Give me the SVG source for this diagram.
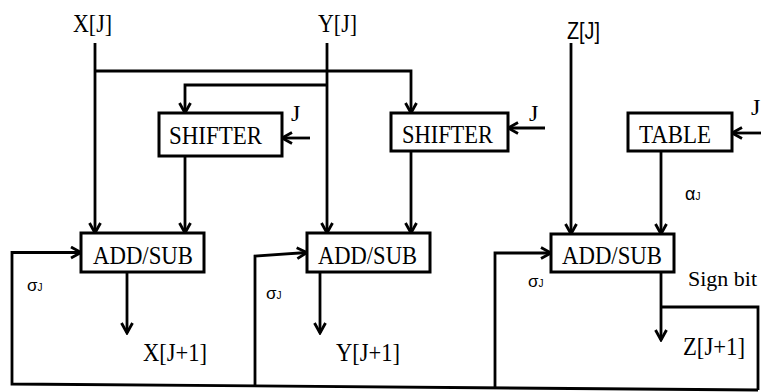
<svg xmlns="http://www.w3.org/2000/svg" width="761" height="392" viewBox="0 0 761 392">
<style>
.box{fill:#fff;stroke:#000;stroke-width:3}
.ln{fill:none;stroke:#000;stroke-width:2.8;stroke-linejoin:miter}
.ar{marker-end:url(#ah)}
.t{font-family:"Liberation Serif","Times New Roman",serif;font-size:26px;fill:#000}
.lb{font-family:"Liberation Serif","Times New Roman",serif;font-size:26px;fill:#000}
.j{font-family:"Liberation Serif","Times New Roman",serif;font-size:24px;fill:#000}
.sb{font-family:"Liberation Serif","Times New Roman",serif;font-size:22px;fill:#000}
.s{font-family:"Liberation Sans",Arial,sans-serif;fill:#000}
</style>
<defs>
<marker id="ah" viewBox="0 0 14 14" refX="12" refY="7" markerWidth="14" markerHeight="14" markerUnits="userSpaceOnUse" orient="auto">
<path d="M2,1.5 L12,7 L2,12.5" fill="none" stroke="#000" stroke-width="2.8"/>
</marker>
</defs>
<g id="connectors">
<path class="ln ar" d="M95,43 V233"/>
<path class="ln ar" d="M95,71 H411 V113"/>
<path class="ln ar" d="M327,43 V233"/>
<path class="ln ar" d="M327,85 H185 V113"/>
<path class="ln ar" d="M185,156 V233"/>
<path class="ln ar" d="M411,151 V233"/>
<path class="ln ar" d="M310,138 H282"/>
<path class="ln ar" d="M545,128 H508"/>
<path class="ln ar" d="M761,133 H732"/>
<path class="ln ar" d="M571,43 V234"/>
<path class="ln ar" d="M661,151 V234"/>
<path class="ln ar" d="M127,272 V333"/>
<path class="ln ar" d="M320,272 V333"/>
<path class="ln ar" d="M661,272 V340"/>
<path class="ln" d="M661,307 H758 V390"/>
<path class="ln ar" d="M758,390 L12,384 V252.5 H81"/>
<path class="ln ar" d="M255,386 V256 L307,252.5"/>
<path class="ln ar" d="M495,388.5 V253 H551"/>
</g>
<g id="inputs">
<text class="lb" x="73" y="32" textLength="39" lengthAdjust="spacingAndGlyphs">X[J]</text>
<text class="lb" x="318" y="32" textLength="39" lengthAdjust="spacingAndGlyphs">Y[J]</text>
<text class="s" x="567" y="39" font-size="24" textLength="33" lengthAdjust="spacingAndGlyphs">Z[J]</text>
</g>
<g id="shifter1">
<rect class="box" x="159" y="113" width="123" height="43"/>
<text class="t" x="169" y="144" textLength="93" lengthAdjust="spacingAndGlyphs">SHIFTER</text>
<text class="j" x="291" y="121">J</text>
</g>
<g id="shifter2">
<rect class="box" x="391" y="113" width="117" height="38"/>
<text class="t" x="402" y="143" textLength="91" lengthAdjust="spacingAndGlyphs">SHIFTER</text>
<text class="j" x="529" y="121">J</text>
</g>
<g id="table">
<rect class="box" x="628" y="113" width="104" height="38"/>
<text class="t" x="639" y="143" textLength="72" lengthAdjust="spacingAndGlyphs">TABLE</text>
<text class="j" x="751" y="115">J</text>
<text class="s" x="685" y="200" font-size="18">α<tspan font-size="10">J</tspan></text>
</g>
<g id="addsub1">
<rect class="box" x="81" y="233" width="123" height="39"/>
<text class="t" x="93" y="264" textLength="100" lengthAdjust="spacingAndGlyphs">ADD/SUB</text>
<text class="s" x="27" y="291" font-size="17">σ<tspan font-size="10">J</tspan></text>
<text class="lb" x="143" y="361" textLength="64" lengthAdjust="spacingAndGlyphs">X[J+1]</text>
</g>
<g id="addsub2">
<rect class="box" x="307" y="233" width="123" height="39"/>
<text class="t" x="318" y="264" textLength="99" lengthAdjust="spacingAndGlyphs">ADD/SUB</text>
<text class="s" x="266" y="299" font-size="17">σ<tspan font-size="10">J</tspan></text>
<text class="lb" x="336" y="361" textLength="64" lengthAdjust="spacingAndGlyphs">Y[J+1]</text>
</g>
<g id="addsub3">
<rect class="box" x="551" y="234" width="123" height="38"/>
<text class="t" x="562" y="264" textLength="100" lengthAdjust="spacingAndGlyphs">ADD/SUB</text>
<text class="s" x="528" y="287" font-size="17">σ<tspan font-size="10">J</tspan></text>
<text class="sb" x="688" y="286">Sign bit</text>
<text class="lb" x="683" y="355" textLength="62" lengthAdjust="spacingAndGlyphs">Z[J+1]</text>
</g>
</svg>
